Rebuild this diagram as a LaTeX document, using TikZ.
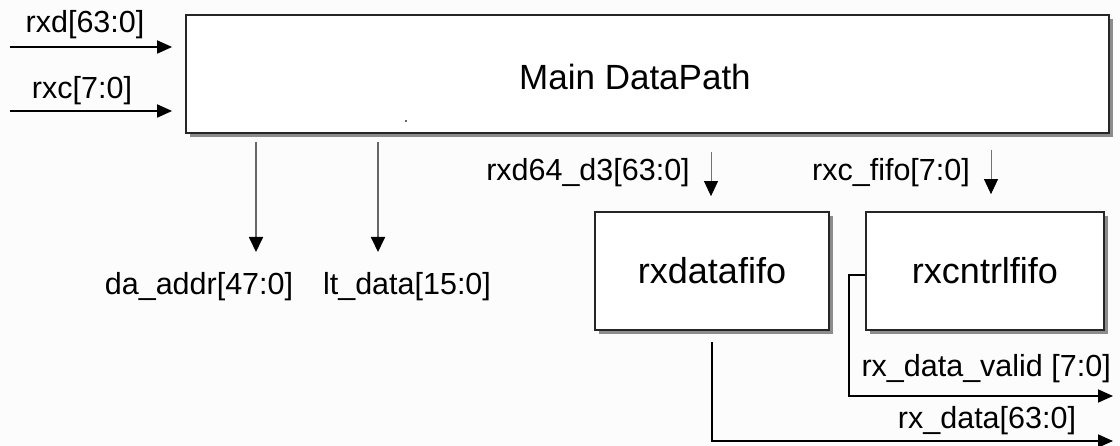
\documentclass[tikz,border=0pt]{standalone}
\usepackage{fontspec}
\setmainfont{Liberation Sans}
\usetikzlibrary{arrows.meta,shadows}
\begin{document}
\begin{tikzpicture}[x=1pt,y=-1pt,
  blk/.style={draw=black!85, line width=1.8pt, fill=white, inner sep=0pt,
    drop shadow={shadow xshift=4pt, shadow yshift=-4pt, fill=black!45, opacity=1}},
  lbl/.style={font=\fontsize{30.5}{36}\selectfont, text=black, inner sep=0pt},
  boxtxt/.style={font=\fontsize{36}{42}\selectfont, text=black},
  sig/.style={line width=1.8pt, draw=black, -{Triangle[length=15pt,width=13pt,color=black]}},
  gsig/.style={line width=1.8pt, draw=black!60, -{Triangle[length=15pt,width=14pt,color=black]}},
  tsig/.style={line width=0.9pt, draw=black!55, -{Triangle[length=15pt,width=14pt,color=black]}},
]
\fill[black!1] (0,0) rectangle (1120,446);
\useasboundingbox (0,0) rectangle (1120,446);

% blocks
\node[blk, minimum width=923pt, minimum height=118pt] (main) at (647.5,74) {};
\node[lbl, font=\fontsize{35}{42}\selectfont] (maintxt) at (635,77) {Main DataPath};
\fill[black!80] (406,121) circle (1.2pt);

\node[blk, boxtxt, minimum width=234pt, minimum height=118pt] (dfifo) at (712,271) {rxdatafifo};
\node[blk, boxtxt, minimum width=238pt, minimum height=118pt] (cfifo) at (985,271) {rxcntrlfifo};

% inputs
\coordinate (rxdin) at (10,47);
\coordinate (rxcin) at (10,111);
\draw[sig, shorten >=13pt] (rxdin) -- (rxdin -| main.west);
\draw[sig, shorten >=13pt] (rxcin) -- (rxcin -| main.west);
\node[lbl] (lrxd) at (85,24.5) {rxd[63:0]};
\node[lbl] (lrxc) at (82,91) {rxc[7:0]};

% outputs of main
\coordinate (daend) at (256,252);
\coordinate (ltend) at (378,252);
\draw[gsig, shorten <=8pt] (main.south -| daend) -- (daend);
\draw[gsig, shorten <=8pt] (main.south -| ltend) -- (ltend);
\node[lbl] (lda) at (199,286.5) {da\_addr[47:0]};
\node[lbl] (llt) at (407,286.5) {lt\_data[15:0]};

% into fifos
\coordinate (d3top) at (711,152);
\coordinate (cftop) at (991,150);
\draw[tsig, shorten >=15pt] (d3top) -- (d3top |- dfifo.north);
\draw[tsig, shorten >=17pt] (cftop) -- (cftop |- cfifo.north);
\node[lbl] (ld3) at (588,173) {rxd64\_d3[63:0]};
\node[lbl] (lcf) at (891,173) {rxc\_fifo[7:0]};

% fifo outputs
\coordinate (validend) at (1113,396);
\coordinate (dataend) at (1113,441);
\draw[sig] ([yshift=-4pt]cfifo.west) -- ++(-16,0) |- (validend);
\draw[sig, shorten <=11pt] (dfifo.south) |- (dataend);
\node[lbl, anchor=east] (lvalid) at (1111,368.5) {rx\_data\_valid [7:0]};
\node[lbl] (ldata) at (987,421) {rx\_data[63:0]};
\end{tikzpicture}
\end{document}
